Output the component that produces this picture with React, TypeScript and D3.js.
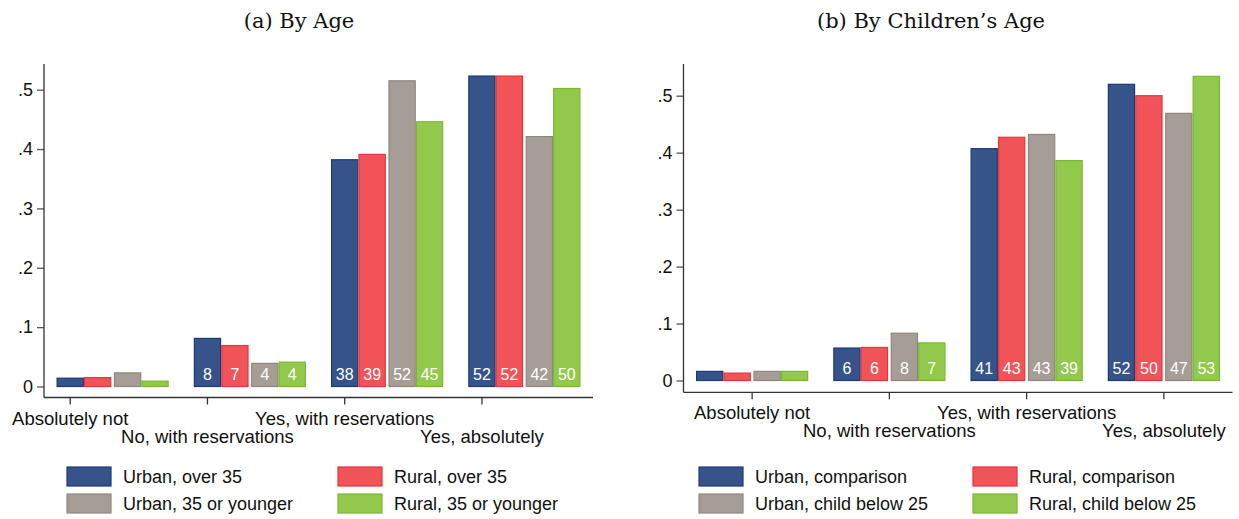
import { useEffect, useRef } from "react";
import * as d3 from "d3";

// answer categories on the x axis
const categories = [
  "Absolutely not",
  "No, with reservations",
  "Yes, with reservations",
  "Yes, absolutely",
];

// y axis ticks
const yTickValues = [0, 0.1, 0.2, 0.3, 0.4, 0.5];
const yTickLabels = ["0", ".1", ".2", ".3", ".4", ".5"];

// panel (a): by age
const ageUrbanOver35 = [0.014, 0.081, 0.382, 0.523];
const ageRuralOver35 = [0.015, 0.069, 0.391, 0.523];
const ageUrbanYoung = [0.023, 0.039, 0.515, 0.421];
const ageRuralYoung = [0.009, 0.041, 0.446, 0.502];
const ageLegend = [
  "Urban, over 35",
  "Rural, over 35",
  "Urban, 35 or younger",
  "Rural, 35 or younger",
];

// panel (b): by children's age
const kidUrbanComparison = [0.016, 0.057, 0.407, 0.52];
const kidRuralComparison = [0.013, 0.058, 0.427, 0.5];
const kidUrbanBelow25 = [0.016, 0.083, 0.432, 0.469];
const kidRuralBelow25 = [0.016, 0.066, 0.386, 0.534];
const kidLegend = [
  "Urban, comparison",
  "Rural, comparison",
  "Urban, child below 25",
  "Rural, child below 25",
];

// which categories carry a value label inside the bars
const showLabel = [false, true, true, true];

const fills = ["#36538a", "#f05458", "#a59d96", "#92c84b"];
const strokes = ["#1b3a79", "#e8333b", "#8f877e", "#7ab82e"];

const SANS = "'Liberation Sans', Arial, Helvetica, sans-serif";
const SERIF = "'DejaVu Serif', Palatino, serif";

interface PanelSpec {
  title: string;
  titleX: number;
  series: number[][];
  legend: string[];
  left: number;
  right: number;
  top: number;
  axisY: number;
  zeroY: number;
  halfY: number;
  tickAtFirstBar: boolean;
  legendX: [number, number];
}

const panels: PanelSpec[] = [
  {
    title: "(a) By Age",
    titleX: 299,
    series: [ageUrbanOver35, ageRuralOver35, ageUrbanYoung, ageRuralYoung],
    legend: ageLegend,
    left: 44,
    right: 593,
    top: 64,
    axisY: 397.5,
    zeroY: 386.5,
    halfY: 89.7,
    tickAtFirstBar: true,
    legendX: [67, 338],
  },
  {
    title: "(b) By Children\u2019s Age",
    titleX: 931,
    series: [kidUrbanComparison, kidRuralComparison, kidUrbanBelow25, kidRuralBelow25],
    legend: kidLegend,
    left: 683.5,
    right: 1232.5,
    top: 64,
    axisY: 392.3,
    zeroY: 380.5,
    halfY: 95.7,
    tickAtFirstBar: false,
    legendX: [699, 973],
  },
];

function drawPanel(svg: d3.Selection<SVGSVGElement, unknown, null, undefined>, p: PanelSpec) {
  const g = svg.append("g");

  // title
  g.append("text")
    .attr("x", p.titleX)
    .attr("y", 28)
    .attr("text-anchor", "middle")
    .attr("font-family", SERIF)
    .attr("font-size", 21)
    .attr("fill", "#111")
    .text(p.title);

  const x = d3
    .scaleBand<string>()
    .domain(categories)
    .range([p.left, p.right])
    .paddingInner(0.182)
    .paddingOuter(0.091);

  // two pairs of bars per group with a small gap between the pairs
  const pair = d3
    .scaleBand<number>()
    .domain([0, 1])
    .range([0, x.bandwidth()])
    .paddingInner(0.044)
    .paddingOuter(0);
  const barW = pair.bandwidth() / 2;
  const barX = (ci: number, si: number) =>
    (x(categories[ci]) ?? 0) + (pair(Math.floor(si / 2)) ?? 0) + (si % 2) * barW;

  const y = d3.scaleLinear().domain([0, 0.5]).range([p.zeroY, p.halfY]);

  // bars
  p.series.forEach((vals, si) => {
    const rows = vals.map((v, ci) => ({ v, ci }));

    g.selectAll(null)
      .data(rows)
      .enter()
      .append("rect")
      .attr("x", (d) => barX(d.ci, si) + 0.6)
      .attr("width", barW - 1.2)
      .attr("y", (d) => y(d.v))
      .attr("height", (d) => y(0) - y(d.v))
      .attr("fill", fills[si])
      .attr("stroke", strokes[si])
      .attr("stroke-width", 1.2);

    g.selectAll(null)
      .data(rows.filter((d) => showLabel[d.ci]))
      .enter()
      .append("text")
      .attr("x", (d) => barX(d.ci, si) + barW / 2)
      .attr("y", y(0) - 7)
      .attr("text-anchor", "middle")
      .attr("font-family", SANS)
      .attr("font-size", 16)
      .attr("fill", "#fff")
      .text((d) => String(Math.round(d.v * 100)));
  });

  // y axis
  const yAxis = g
    .append("g")
    .attr("transform", `translate(${p.left},0)`)
    .call(
      d3
        .axisLeft(y)
        .tickValues(yTickValues)
        .tickFormat((_d, i) => yTickLabels[i])
        .tickSize(7)
        .tickPadding(4)
    );
  yAxis.select(".domain").remove();
  yAxis.selectAll(".tick line").attr("stroke", "#555").attr("stroke-width", 1.3);
  yAxis
    .selectAll(".tick text")
    .attr("font-family", SANS)
    .attr("font-size", 18)
    .attr("fill", "#111");
  g.append("line")
    .attr("x1", p.left)
    .attr("x2", p.left)
    .attr("y1", p.top)
    .attr("y2", p.axisY)
    .attr("stroke", "#333")
    .attr("stroke-width", 1.3);

  // x axis
  g.append("line")
    .attr("x1", p.left)
    .attr("x2", p.right)
    .attr("y1", p.axisY)
    .attr("y2", p.axisY)
    .attr("stroke", "#333")
    .attr("stroke-width", 1.3);

  const tickX = (c: string) =>
    (x(c) ?? 0) + (p.tickAtFirstBar ? barW / 2 : x.bandwidth() / 2);

  g.selectAll(null)
    .data(categories)
    .enter()
    .append("line")
    .attr("x1", tickX)
    .attr("x2", tickX)
    .attr("y1", p.axisY)
    .attr("y2", p.axisY + 7)
    .attr("stroke", "#333")
    .attr("stroke-width", 1.3);

  g.selectAll(null)
    .data(categories)
    .enter()
    .append("text")
    .attr("x", tickX)
    .attr("y", (_d, i) => p.axisY + (i % 2 === 0 ? 27 : 45))
    .attr("text-anchor", "middle")
    .attr("font-family", SANS)
    .attr("font-size", 18.5)
    .attr("fill", "#111")
    .text((d) => d);

  // legend: 2 x 2
  p.legend.forEach((name, i) => {
    const lx = p.legendX[i % 2];
    const ly = 467 + Math.floor(i / 2) * 27;
    g.append("rect")
      .attr("x", lx)
      .attr("y", ly)
      .attr("width", 44)
      .attr("height", 19)
      .attr("fill", fills[i])
      .attr("stroke", strokes[i])
      .attr("stroke-width", 1.2);
    g.append("text")
      .attr("x", lx + 56)
      .attr("y", ly + 16)
      .attr("font-family", SANS)
      .attr("font-size", 18)
      .attr("fill", "#111")
      .text(name);
  });
}

export default function App() {
  const svgRef = useRef<SVGSVGElement>(null);

  useEffect(() => {
    if (!svgRef.current) return;
    const svg = d3.select(svgRef.current);
    svg.selectAll("*").remove();
    panels.forEach((p) => drawPanel(svg, p));
    return () => {
      svg.selectAll("*").remove();
    };
  }, []);

  return (
    <svg
      ref={svgRef}
      width={1239}
      height={519}
      style={{ position: "absolute", left: 0, top: 0, background: "#fff" }}
    />
  );
}
